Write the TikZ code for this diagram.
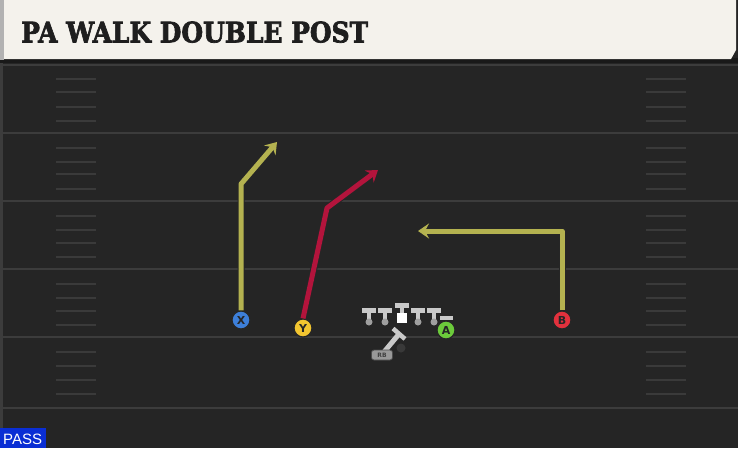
\documentclass[tikz,border=0pt]{standalone}
\usepackage{fontspec}
\setmainfont{DejaVu Serif}
\newfontfamily\titlefont[FakeBold=2.5]{DejaVu Serif Bold}
\newfontfamily\labfont{DejaVu Sans}
\newfontfamily\passfont{Liberation Sans}
\usetikzlibrary{arrows.meta}
\definecolor{fieldbg}{HTML}{252525}
\definecolor{yardline}{HTML}{3C3C3C}
\definecolor{hashcol}{HTML}{3A3A3A}
\definecolor{titlebg}{HTML}{F4F2EC}
\definecolor{titletext}{HTML}{1E1E1E}
\definecolor{olive}{HTML}{B4B250}
\definecolor{routered}{HTML}{B3143C}
\definecolor{pblue}{HTML}{3D7FD9}
\definecolor{pyellow}{HTML}{F2C530}
\definecolor{pgreen}{HTML}{6CCB3B}
\definecolor{pred}{HTML}{E2313D}
\definecolor{linegray}{HTML}{C9C9C9}
\definecolor{passblue}{HTML}{0A2ED4}
\tikzset{
  player/.style={circle, draw=black!85, line width=1.2pt, minimum size=18pt, inner sep=0pt,
    font=\labfont\bfseries\fontsize{11}{11}\selectfont, text=black!85},
  route/.style={line width=5pt, line join=round, -{Stealth[length=11pt,width=15pt,inset=4pt]},
    preaction={draw=black!85, line width=7pt, -{Stealth[length=13pt,width=18pt,inset=5pt]}}},
  yard/.style={draw=yardline, line width=2pt},
  hashm/.style={draw=hashcol, line width=1.6pt},
  tbar/.style={fill=linegray},
}
\begin{document}
\begin{tikzpicture}[x=1pt,y=-1pt]
\useasboundingbox (0,0) rectangle (738,448);
% field
\fill[fieldbg] (0,0) rectangle (738,448);
\fill[yardline] (0,60) rectangle (3,448);
% yard lines
\foreach \yy in {65,133,201,269,337,408}{
  \draw[yard] (0,\yy) -- (738,\yy);
}
% hash marks
\foreach \yy in {79,92,107,121,148,162,174,189,216,230,243,257,284,298,311,325,352,366,380,394}{
  \draw[hashm] (56,\yy) -- (96,\yy);
  \draw[hashm] (646,\yy) -- (686,\yy);
}
% title bar
\fill[black!90] (0,58) rectangle (738,63);
\fill[gray!60] (0,0) rectangle (4,60);
\fill[titlebg] (4,0) -- (736,0) -- (736,50) -- (731,59) -- (4,59) -- cycle;
\node[anchor=south west, inner sep=0pt, text=titletext] (title) at (21,43)
  {\resizebox{347pt}{21pt}{\titlefont PA WALK DOUBLE POST}};
% pass badge
\fill[passblue] (0,428) rectangle (46,448);
\node[anchor=west, inner sep=0pt, text=white, font=\passfont\fontsize{15}{15}\selectfont] (pass) at (3,439) {PASS};
% players
\node[player, fill=pblue] (X) at (241,320) {X};
\node[player, fill=pyellow] (Y) at (303,328) {Y};
\node[player, fill=pgreen] (A) at (446,330) {A};
\node[player, fill=pred] (B) at (562,320) {B};
% route coordinates
\coordinate (xb) at (241,184);
\coordinate (xt) at (277,142);
\coordinate (yb) at (327,208);
\coordinate (yt) at (378,170);
\coordinate (bb) at (562,231);
\coordinate (bt) at (418,231);
\draw[route, olive] (X.north) -- (xb) -- (xt);
\draw[route, routered] (Y.north) -- (yb) -- (yt);
\draw[route, olive] (B.north) -- (bb) -- (bt);
% offensive line
\foreach \lx in {369,385,418,434}{
  \fill[tbar] (\lx-7,308) rectangle (\lx+7,312.5);
  \fill[tbar] (\lx-2,312) rectangle (\lx+2,321);
  \fill[gray!75] (\lx,322) circle (3.5pt);
}
\fill[tbar] (395,303) rectangle (409,307.5);
\fill[tbar] (400,307) rectangle (404,313);
\fill[white] (397,313) rectangle (407,323);
\fill[tbar] (440,316) rectangle (453,320);
% running back
\fill[gray!45!black] (401,348) circle (4.5pt);
\draw[linegray, line width=5pt] (384,352) -- (399,334);
\draw[linegray, line width=4.5pt] (393,328.5) -- (405,339);
\node[fill=gray!80, draw=black!70, line width=0.8pt, rounded corners=2.5pt, minimum width=21pt,
  minimum height=10pt, inner sep=0pt, text=black!75, font=\labfont\bfseries\fontsize{6}{6}\selectfont] (RB) at (382,355) {RB};
\end{tikzpicture}
\end{document}
